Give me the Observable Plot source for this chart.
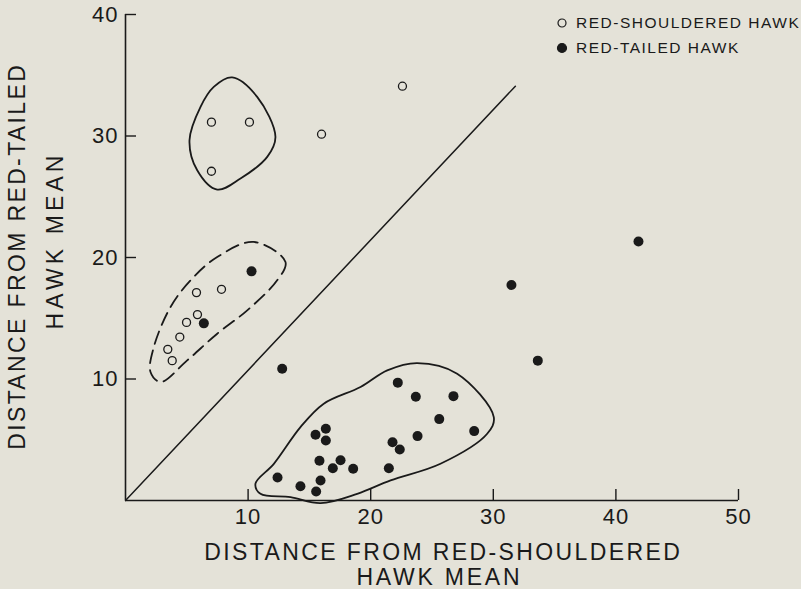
<!DOCTYPE html>
<html><head><meta charset="utf-8">
<script src="https://cdn.jsdelivr.net/npm/d3@7"></script>
<script src="https://cdn.jsdelivr.net/npm/@observablehq/plot@0.6"></script>
<style>
html,body{margin:0;padding:0;background:#e4e2d8;}
#wrap{position:relative;width:801px;height:589px;overflow:hidden;font-family:"Liberation Sans",Arial,sans-serif;color:#1a1a1a;}
#legend{position:absolute;left:556px;top:10px;font-size:15.5px;letter-spacing:1.5px;line-height:25px;}
#legend .row{display:flex;align-items:center;white-space:nowrap;}
#legend svg{margin-right:8px;}
g[aria-label="x-axis tick label"] text, g[aria-label="y-axis tick label"] text{letter-spacing:1px;}
</style></head>
<body><div id="wrap"><div id="chart"></div><div id="legend"></div></div>
<script>
// Red-shouldered hawk (open circles)
const shoulderedX = [7.01, 10.11, 7.01, 15.99, 22.59, 3.45, 3.81, 4.43, 4.98, 5.79, 5.87, 7.83];
const shoulderedY = [31.14, 31.14, 27.10, 30.15, 34.10, 12.44, 11.51, 13.45, 14.66, 17.11, 15.30, 17.38];
// Red-tailed hawk (filled circles)
const tailedX = [6.39, 10.28, 12.78, 41.84, 31.48, 33.63, 22.21, 23.68, 26.75, 25.59, 28.44, 23.82, 21.78, 22.37, 21.48, 16.34, 15.50, 16.34, 15.82, 17.54, 16.91, 18.57, 12.40, 14.27, 15.91, 15.55];
const tailedY = [14.58, 18.86, 10.85, 21.31, 17.73, 11.51, 9.70, 8.54, 8.59, 6.70, 5.71, 5.30, 4.80, 4.20, 2.66, 5.91, 5.41, 4.94, 3.27, 3.32, 2.66, 2.61, 1.89, 1.18, 1.65, 0.74];
// Group outlines
const topBlobX = [8.70, 10.74, 12.23, 11.56, 9.38, 7.48, 5.85, 5.22, 6.12, 7.20];
const topBlobY = [34.82, 33.22, 29.93, 28.28, 26.50, 25.59, 27.18, 29.65, 32.40, 34.04];
const dashedX = [10.46, 13.05, 12.37, 9.93, 7.48, 5.03, 2.85, 2.04, 2.31, 3.67, 5.30, 7.48];
const dashedY = [21.28, 19.63, 18.12, 15.65, 13.73, 11.53, 9.75, 10.57, 12.63, 15.92, 18.12, 20.04];
const bottomBlobX = [23.79, 27.05, 30.04, 29.50, 25.69, 21.62, 18.90, 15.91, 13.46, 11.01, 10.60, 12.10, 14.27, 16.17, 19.17, 21.35];
const bottomBlobY = [11.31, 10.44, 6.86, 5.49, 3.02, 1.65, 0.55, -0.22, 0.27, 0.55, 1.38, 3.02, 6.04, 7.97, 9.34, 10.71];
// Diagonal reference line
const diagX = [0, 31.8];
const diagY = [0, 34.1];
// Ticks and labels
const xTicks = [10, 20, 30, 40, 50];
const yTicks = [10, 20, 30, 40];
const xTitle = ["DISTANCE FROM RED-SHOULDERED", "HAWK MEAN"];
const yTitle = ["DISTANCE FROM RED-TAILED", "HAWK MEAN"];
const legendLabels = ["RED-SHOULDERED HAWK", "RED-TAILED HAWK"];

const ink = "#1a1a1a";
const bg = "#e4e2d8";
const zip = (xs, ys) => xs.map((x, i) => ({x, y: ys[i]}));

const chart = Plot.plot({
  width: 801, height: 589,
  marginLeft: 125, marginRight: 63, marginTop: 14, marginBottom: 89,
  x: {domain: [0, 50]},
  y: {domain: [0, 40]},
  style: {background: bg, fontFamily: '"Liberation Sans", Arial, sans-serif', color: ink},
  marks: [
    Plot.ruleX([0], {stroke: ink, strokeWidth: 1.6}),
    Plot.ruleY([0], {stroke: ink, strokeWidth: 1.6}),
    Plot.axisX({ticks: xTicks, label: null, tickSize: -11, tickPadding: 19, fontSize: 22, stroke: ink, strokeWidth: 1.4, fill: ink}),
    Plot.axisY({ticks: yTicks, label: null, tickSize: -11, tickPadding: 18, fontSize: 22, stroke: ink, strokeWidth: 1.4, fill: ink}),
    Plot.line(zip(diagX, diagY), {x: "x", y: "y", stroke: ink, strokeWidth: 1.5}),
    Plot.line(zip(topBlobX, topBlobY), {x: "x", y: "y", curve: "catmull-rom-closed", stroke: ink, strokeWidth: 1.8}),
    Plot.line(zip(dashedX, dashedY), {x: "x", y: "y", curve: "catmull-rom-closed", stroke: ink, strokeWidth: 1.8, strokeDasharray: "13,7"}),
    Plot.line(zip(bottomBlobX, bottomBlobY), {x: "x", y: "y", curve: "catmull-rom-closed", stroke: ink, strokeWidth: 1.8}),
    Plot.dot(zip(shoulderedX, shoulderedY), {x: "x", y: "y", r: 4, fill: bg, stroke: ink, strokeWidth: 1.3}),
    Plot.dot(zip(tailedX, tailedY), {x: "x", y: "y", r: 5, fill: ink, stroke: "none"}),
    Plot.text([xTitle[0]], {frameAnchor: "bottom", textAnchor: "middle", lineAnchor: "middle", dx: 10, dy: 52, fontSize: 23, fill: ink}),
    Plot.text([xTitle[1]], {frameAnchor: "bottom", textAnchor: "middle", lineAnchor: "middle", dx: 6, dy: 77, fontSize: 23, fill: ink}),
    Plot.text([yTitle[0]], {frameAnchor: "left", textAnchor: "middle", lineAnchor: "middle", rotate: -90, dx: -108, dy: 0, fontSize: 23, fill: ink}),
    Plot.text([yTitle[1]], {frameAnchor: "left", textAnchor: "middle", lineAnchor: "middle", rotate: -90, dx: -70, dy: -15, fontSize: 23, fill: ink})
  ]
});
document.getElementById("chart").appendChild(chart);

// stretch title lettering to the reference widths
const titleWidths = new Map([[xTitle[0], 478], [yTitle[0], 387]]);
const secondLineWidths = [166, 178];
let hawkCount = 0;
d3.select(chart).selectAll("text").each(function() {
  const t = this.textContent;
  let target = titleWidths.get(t);
  if (t === "HAWK MEAN") target = secondLineWidths[hawkCount++];
  if (!target) return;
  const natural = this.getComputedTextLength();
  const ls = Math.max(0, (target - natural) / t.length);
  this.style.letterSpacing = ls + "px";
  this.setAttribute("dx", (ls / 2) + "px");
});

const legend = document.getElementById("legend");
legendLabels.forEach((lab, i) => {
  const row = document.createElement("div");
  row.className = "row";
  const filled = i === 1;
  row.innerHTML = `<svg width="12" height="12"><circle cx="6" cy="6" r="${filled ? 4.5 : 4}" fill="${filled ? ink : "none"}" stroke="${ink}" stroke-width="1.2"/></svg><span>${lab}</span>`;
  legend.appendChild(row);
});
</script>
</body></html>
